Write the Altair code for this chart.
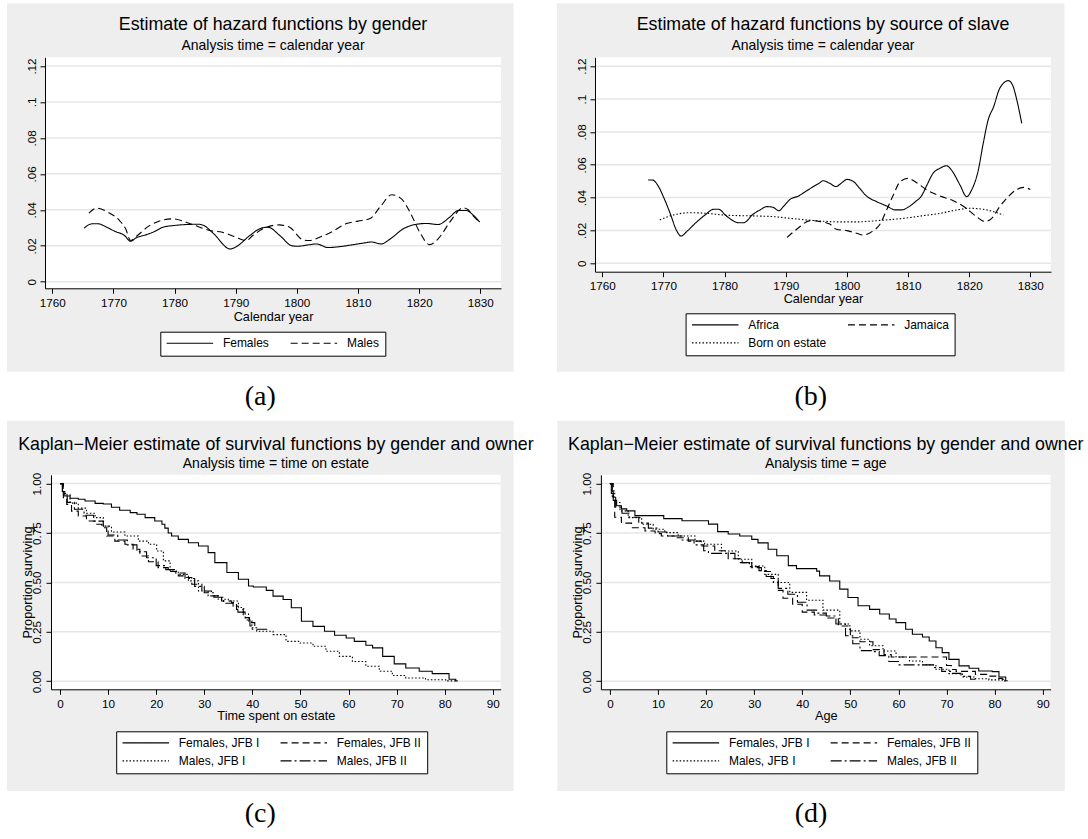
import altair as alt
import pandas as pd

FONT = "Liberation Sans"
SERIF = "Liberation Serif"
INK = "#000000"
PANEL = "#eeeeee"
GRIDC = "#e6e6e6"

# ---------------- (a) hazard by gender, calendar year ----------------
fem_year = [1765.2, 1766.5, 1767.5, 1768.9, 1770.2, 1771.8, 1772.8, 1773.7, 1775.4, 1776.7,
            1778.1, 1780.0, 1781.9, 1783.8, 1784.7, 1786.3, 1789.1, 1790.1, 1792.3, 1794.2,
            1795.3, 1797.2, 1799.1, 1800.0, 1802.1, 1803.2, 1805.1, 1807.0, 1809.2, 1811.1,
            1812.2, 1813.8, 1815.2, 1817.4, 1819.3, 1821.2, 1823.1, 1825.0, 1826.4, 1827.7,
            1828.8, 1829.9]
fem_haz = [.0298, .0322, .0322, .0303, .0281, .0257, .0225, .0244, .0262, .0279,
           .0303, .0313, .0318, .0320, .0314, .0270, .0182, .0195, .0257, .0298,
           .0303, .0257, .0201, .0197, .0206, .0210, .0190, .0195, .0206, .0216,
           .0221, .0210, .0236, .0294, .0318, .0324, .0318, .0359, .0396, .0396,
           .0372, .0331]
male_year = [1766.0, 1767.2, 1769.1, 1771.0, 1772.0, 1772.8, 1773.7, 1775.9, 1777.8, 1779.7,
             1781.9, 1783.8, 1785.7, 1787.8, 1789.8, 1791.7, 1792.8, 1795.0, 1797.1, 1798.8,
             1801.0, 1802.0, 1804.0, 1805.9, 1808.0, 1810.0, 1811.9, 1813.8, 1815.5, 1817.1,
             1818.5, 1820.1, 1821.7, 1823.1, 1825.0, 1827.2, 1828.0, 1828.8, 1829.9]
male_haz = [.0381, .0409, .0387, .0340, .0294, .0229, .0251, .0312, .0340, .0350,
            .0331, .0307, .0285, .0275, .0251, .0229, .0257, .0303, .0316, .0303,
            .0233, .0229, .0251, .0281, .0322, .0337, .0350, .0424, .0484, .0461,
            .0387, .0275, .0206, .0238, .0331, .0411, .0400, .0368, .0331]

# ---------------- (b) hazard by source of slave ----------------
afr_year = [1767.5, 1768.2, 1769.2, 1770.1, 1771.1, 1772.1, 1772.9, 1773.8, 1775.3, 1776.8,
            1778.2, 1779.0, 1780.3, 1782.3, 1783.1, 1784.7, 1785.8, 1786.9, 1787.9, 1788.9,
            1789.6, 1790.7, 1792.1, 1793.2, 1794.3, 1795.6, 1796.1, 1797.2, 1798.2, 1799.2,
            1800.0, 1801.1, 1802.1, 1803.2, 1804.9, 1806.5, 1807.9, 1809.0, 1810.0, 1811.2,
            1812.2, 1813.1, 1814.1, 1815.2, 1816.3, 1817.1, 1818.5, 1819.6, 1820.4, 1821.5,
            1822.3, 1823.1, 1824.0, 1825.0, 1826.4, 1827.1, 1827.8, 1828.6]
afr_haz = [.0507, .0507, .0467, .0396, .0304, .0203, .0166, .0193, .0247, .0294,
           .0329, .0329, .0288, .0247, .0247, .0300, .0325, .0345, .0341, .0320,
           .0345, .0389, .0410, .0436, .0462, .0491, .0503, .0487, .0467, .0491,
           .0511, .0497, .0456, .0410, .0375, .0349, .0325, .0325, .0341, .0375,
           .0410, .0477, .0548, .0578, .0594, .0568, .0477, .0406, .0446, .0568,
           .0730, .0872, .0953, .1065, .1112, .1085, .0994, .0852]
jam_year = [1790.2, 1791.8, 1794.0, 1795.6, 1797.2, 1798.3, 1800.0, 1801.6, 1802.7, 1804.1,
            1805.5, 1806.5, 1807.6, 1808.7, 1810.0, 1811.4, 1813.1, 1815.2, 1817.4, 1819.3,
            1821.2, 1822.6, 1823.7, 1825.0, 1826.4, 1827.8, 1828.9, 1830.0]
jam_haz = [.0158, .0207, .0260, .0254, .0239, .0207, .0199, .0183, .0172, .0193,
           .0243, .0325, .0416, .0497, .0517, .0491, .0446, .0410, .0381, .0341,
           .0284, .0254, .0274, .0345, .0406, .0450, .0462, .0450]
est_year = [1769.4, 1771.6, 1774.3, 1777.1, 1779.8, 1782.5, 1785.3, 1788.0, 1790.7, 1793.4,
            1796.2, 1798.9, 1801.6, 1804.3, 1807.1, 1809.8, 1812.5, 1815.2, 1818.0, 1820.1,
            1822.3, 1824.0, 1825.6]
est_haz = [.0264, .0294, .0308, .0304, .0294, .0290, .0288, .0284, .0274, .0264,
           .0256, .0252, .0252, .0258, .0266, .0276, .0290, .0304, .0325, .0335,
           .0329, .0314, .0294]

# ---------------- (c) Kaplan-Meier, time on estate ----------------
c_fj1_t = [0, 0.5, 1, 2.1, 3.8, 5.2, 7.3, 9, 10.7, 12.4, 14.6, 16, 17.7, 19.7, 21.2, 21.8, 22.5,
           23.2, 24.6, 26.7, 28.8, 30.8, 32.2, 34.7, 37.1, 39.2, 40.2, 42.9, 44.3, 46.4, 48.1,
           50.2, 52.6, 55, 57.1, 59.5, 61.2, 63.6, 65, 67.1, 69.5, 71.9, 74.7, 77.4, 80.9, 82.3, 82.6]
c_fj1_s = [1, .96, .937, .926, .921, .912, .9, .897, .88, .865, .853, .845, .828, .811, .794, .775,
           .75, .735, .718, .701, .684, .651, .6, .55, .516, .482, .477, .46, .431, .414, .372,
           .304, .278, .253, .233, .219, .202, .182, .169, .126, .088, .067, .051, .039, .01, .002, 0]
c_fj2_t = [0, 0.7, 1.4, 2.4, 3.8, 5.5, 7.3, 8.7, 9.7, 11.4, 13.5, 15.2, 16.6, 18.4, 20.4, 22.5,
           24.6, 26, 27.4, 29.5, 31.5, 33.6, 35.7, 36.7, 38.1, 39.4, 40.5, 41.3]
c_fj2_s = [1, .929, .895, .861, .836, .811, .794, .777, .735, .709, .693, .668, .634, .605, .575,
           .555, .533, .525, .491, .457, .432, .406, .398, .364, .322, .297, .283, .283]
c_mj1_t = [0, 0.7, 2.1, 3.8, 5.5, 7.3, 9, 10.7, 13.5, 16.3, 18.4, 20.1, 21.5, 22.9, 24.6, 26.7,
           28.8, 30.8, 32.9, 35, 37.1, 38.2, 39.2, 39.9, 40.9, 44.3, 47, 49.8, 52.6, 55.3, 58.1,
           60.8, 63.6, 66.4, 69.1, 71.9, 76, 80.2, 82.3]
c_mj1_s = [1, .943, .901, .876, .85, .828, .785, .755, .735, .709, .693, .659, .609, .558, .541,
           .508, .457, .432, .415, .406, .373, .34, .305, .271, .253, .236, .202, .194, .177,
           .152, .126, .1, .076, .051, .029, .017, .008, .002, 0]
c_mj2_t = [0, 0.5, 1.5, 3, 5, 7, 9, 10, 12, 14, 16, 18, 20, 22, 24, 26, 28, 30, 32, 34, 36, 37,
           38.5, 39.5, 40, 43.5]
c_mj2_s = [1, .95, .905, .87, .84, .81, .785, .74, .715, .69, .655, .625, .585, .565, .548, .52,
           .48, .448, .425, .395, .38, .35, .31, .28, .263, .263]

# ---------------- (d) Kaplan-Meier, age ----------------
d_fj1_t = [0, 0.3, 0.7, 1.4, 2.4, 3.5, 5.2, 11.2, 15, 20.5, 22.4, 24.6, 27, 29.5, 30.8, 32.9,
           34.7, 37.1, 38.8, 43, 43.6, 45.7, 47.8, 49.5, 51.6, 54, 56.1, 58.1, 59.5, 61.5, 62.9,
           65, 66.4, 67.8, 69.1, 70.5, 72.6, 74.7, 76.7, 79.5, 80.9, 82.3, 82.6]
d_fj1_s = [1, .95, .915, .888, .872, .862, .838, .823, .812, .795, .757, .745, .735, .718, .7,
           .668, .635, .585, .57, .557, .533, .507, .466, .424, .382, .364, .34, .315, .297,
           .263, .238, .224, .204, .17, .145, .111, .078, .066, .052, .049, .022, .003, 0]
d_fj2_t = [0, 0.7, 1, 2.4, 4.5, 7.3, 9.4, 10.7, 13.5, 16.3, 19, 21.8, 24.6, 27, 29.5, 31.5,
           33.5, 35, 36, 38, 40, 42.5, 45.3, 47.5, 50, 52, 54.7, 57, 58.5, 70, 71, 72, 76, 78.8,
           80.5, 81.6, 82.4]
d_fj2_s = [1, .93, .83, .8, .777, .76, .747, .735, .726, .709, .684, .66, .62, .6, .575, .555,
           .52, .46, .42, .39, .35, .335, .32, .28, .22, .2, .16, .135, .123, .08, .06, .05,
           .035, .026, .015, .01, .01]
d_mj1_t = [0, 0.35, 1, 2.1, 3.8, 6.6, 9, 11.4, 14.2, 17.7, 19.7, 23.2, 26.7, 29.5, 32.2, 35,
           37.4, 40.9, 44.3, 47.8, 49.9, 52, 54, 56.8, 59.5, 62.3, 65, 67.8, 70.5, 73.3, 76,
           78.8, 81.6, 82.5]
d_mj1_s = [1, .963, .904, .862, .828, .794, .769, .752, .735, .709, .693, .659, .617, .583,
           .541, .5, .45, .41, .36, .29, .255, .213, .18, .153, .123, .103, .083, .061, .039,
           .022, .013, .007, .002, 0]
d_mj2_t = [0, 0.5, 1.2, 2.5, 4, 6, 8, 10, 12, 15, 17.5, 19.5, 20.5, 26, 27.5, 29, 31, 32.5, 34,
           35, 37, 39, 41, 43, 45, 47, 49, 50.5, 52, 54.5, 56, 58, 60, 67.5, 69, 71, 73, 75, 76]
d_mj2_s = [1, .93, .88, .85, .83, .8, .775, .755, .735, .715, .69, .66, .647, .62, .6, .58,
           .56, .53, .5, .47, .44, .4, .36, .345, .33, .29, .23, .19, .155, .15, .13, .1, .083,
           .07, .05, .04, .025, .01, .01]

hazard_ticks = [0, 0.02, 0.04, 0.06, 0.08, 0.1, 0.12]
surv_ticks = [0, 0.25, 0.5, 0.75, 1.0]
year_ticks = list(range(1760, 1831, 10))
time_ticks = list(range(0, 91, 10))

gender_names = ["Females", "Males"]
source_names = ["Africa", "Jamaica", "Born on estate"]
owner_names = ["Females, JFB I", "Females, JFB II", "Males, JFB I", "Males, JFB II"]

SOLID = [1, 0]
DASH = [7, 4]
DOT = [1.5, 2]
LONGDASH_DOT = [11, 3, 2, 3]

HAZ_LABEL = "datum.value == 0 ? '0' : replace(format(datum.value, '.2~f'), '0.', '.')"
SURV_LABEL = "format(datum.value, '.2f')"


def long_table(parts):
    rows = []
    for name, xs, ys in parts:
        rows += [{"x": a, "y": b, "series": name} for a, b in zip(xs, ys)]
    return pd.DataFrame(rows)


def panel(table, names, dashes, interp, w, h, xdom, ydom, xticks, yticks, ylab_expr,
          xtitle, title, subtitle, box, legend_pos, caption, caption_pos,
          xtitle_y, ylab_pad, title_offset, sub_pad, ytitle="", ytitle_x=0.0):
    one = pd.DataFrame({"k": [0]})
    gx1, gx2, gy1, gy2 = box
    # panel backdrop and white plot region
    backdrop = alt.Chart(one).mark_rect(color=PANEL).encode(
        x=alt.value(gx1), x2=alt.value(gx2), y=alt.value(gy1), y2=alt.value(gy2))
    plotarea = alt.Chart(one).mark_rect(color="white").encode(
        x=alt.value(0), x2=alt.value(w), y=alt.value(0), y2=alt.value(h))

    xscale = alt.Scale(domain=xdom, nice=False, zero=False)
    yscale = alt.Scale(domain=ydom, nice=False, zero=False)
    xaxis = alt.Axis(values=xticks, format="d", title=xtitle, titleY=xtitle_y,
                     titleBaseline="middle", labelPadding=4, zindex=1)
    yopts = dict(values=yticks, labelExpr=ylab_expr, labelAngle=270, labelAlign="center",
                 labelBaseline="middle", labelPadding=ylab_pad, zindex=1)
    if ytitle:
        yopts.update(title=ytitle, titleX=ytitle_x, titleY=h / 2, titleAngle=270,
                     titleAlign="center", titleBaseline="middle")
    else:
        yopts.update(title=None)
    yaxis = alt.Axis(**yopts)

    grid = alt.Chart(pd.DataFrame({"y": yticks})).mark_rule(
        color=GRIDC, strokeWidth=1.5).encode(y=alt.Y("y:Q", scale=yscale, axis=yaxis))

    legend = alt.Legend(
        orient="none", legendX=legend_pos[0], legendY=legend_pos[1], columns=2,
        direction="horizontal", title=None,
        symbolType="stroke", symbolSize=2162, symbolStrokeWidth=1.1, symbolStrokeColor=INK,
        labelFont=FONT, labelFontSize=12, labelColor=INK, labelOffset=9, labelLimit=300,
        columnPadding=20, rowPadding=6, padding=5.6, clipHeight=12,
        strokeColor=INK, fillColor="white")
    curves = alt.Chart(table).mark_line(color=INK, strokeWidth=1.1, interpolate=interp).encode(
        x=alt.X("x:Q", scale=xscale, axis=xaxis),
        y=alt.Y("y:Q", scale=yscale, axis=yaxis),
        strokeDash=alt.StrokeDash("series:N", scale=alt.Scale(domain=names, range=dashes),
                                  legend=legend),
    )
    label = alt.Chart(one).mark_text(
        text=caption, font=SERIF, fontSize=28, color=INK, align="center", baseline="middle"
    ).encode(x=alt.value(caption_pos[0]), y=alt.value(caption_pos[1]))

    return alt.layer(backdrop, plotarea, grid, curves, label).properties(
        width=w, height=h,
        title=alt.TitleParams(
            text=title, subtitle=subtitle, anchor="middle", frame="group", font=FONT,
            fontSize=17.8, fontWeight="normal", color=INK, subtitleFont=FONT,
            subtitleFontSize=14, subtitleColor=INK, subtitlePadding=sub_pad,
            offset=title_offset),
    )


year_dom = [1758.806, 1833.386]
time_dom = [-1.871, 91.64]

chart_a = panel(
    long_table([("Females", fem_year, fem_haz), ("Males", male_year, male_haz)]),
    gender_names, [SOLID, DASH], "monotone", 456, 231, year_dom, [-0.00367, 0.12484],
    year_ticks, hazard_ticks, HAZ_LABEL, "Calendar year",
    "Estimate of hazard functions by gender", "Analysis time = calendar year",
    (-38, 468.5, -54, 314.4), (115.3, 274.4), "(a)", (215.25, 339.7),
    28.5, 8.6, -49.84, 4.94)

chart_b = panel(
    long_table([("Africa", afr_year, afr_haz), ("Jamaica", jam_year, jam_haz),
                ("Born on estate", est_year, est_haz)]),
    source_names, [SOLID, DASH, DOT], "monotone", 456, 214.4, year_dom, [-0.00511, 0.12542],
    year_ticks, hazard_ticks, HAZ_LABEL, "Calendar year",
    "Estimate of hazard functions by source of slave", "Analysis time = calendar year",
    (-38, 469.5, -54, 314.4), (90.6, 256), "(b)", (215.75, 339.7),
    26.5, 8.6, -49.84, 4.94)

chart_c = panel(
    long_table([("Females, JFB I", c_fj1_t, c_fj1_s), ("Females, JFB II", c_fj2_t, c_fj2_s),
                ("Males, JFB I", c_mj1_t, c_mj1_s), ("Males, JFB II", c_mj2_t, c_mj2_s)]),
    owner_names, [SOLID, DASH, DOT, LONGDASH_DOT], "step-after", 449.7, 214.5, time_dom,
    [-0.0405, 1.0445], time_ticks, surv_ticks, SURV_LABEL, "Time spent on estate",
    "Kaplan\u2212Meier estimate of survival functions by gender and owner",
    "Analysis time = time on estate",
    (-44, 462.5, -54, 316.2), (65.2, 256.5), "(c)", (209.25, 339.5),
    26.5, 9.7, -50.24, 3.54, ytitle="Proportion surviving", ytitle_x=-23.3)

chart_d = panel(
    long_table([("Females, JFB I", d_fj1_t, d_fj1_s), ("Females, JFB II", d_fj2_t, d_fj2_s),
                ("Males, JFB I", d_mj1_t, d_mj1_s), ("Males, JFB II", d_mj2_t, d_mj2_s)]),
    owner_names, [SOLID, DASH, DOT, LONGDASH_DOT], "step-after", 449.7, 214.5, time_dom,
    [-0.0405, 1.0445], time_ticks, surv_ticks, SURV_LABEL, "Age",
    "Kaplan\u2212Meier estimate of survival functions by gender and owner",
    "Analysis time = age",
    (-43.6, 463.9, -54, 316.2), (65.4, 256.5), "(d)", (210.15, 339.5),
    26.5, 9.7, -50.24, 3.54, ytitle="Proportion surviving", ytitle_x=-23.3)


def independent(c):
    return c.resolve_scale(strokeDash="independent").resolve_legend(strokeDash="independent")


# 1px layout gutter that nudges the lower row right of the upper one
gutter = alt.Chart(pd.DataFrame({"k": [0]})).mark_point(opacity=0).properties(width=1, height=1)

top_row = independent(alt.hconcat(chart_a, chart_b, spacing=94, bounds="flush"))
bottom_pair = independent(alt.hconcat(chart_c, chart_d, spacing=99.9, bounds="flush"))
bottom_row = independent(alt.hconcat(gutter, bottom_pair, spacing=5, bounds="flush"))

# rows stack by their full extent: caption of the upper row, backdrop of the lower row
chart = independent(alt.vconcat(top_row, bottom_row, spacing=9.5, bounds="full")).properties(
    padding={"left": 7, "top": 3.3, "right": 0, "bottom": 0}, background="white"
).configure_axis(
    labelFont=FONT, labelFontSize=11.7, labelColor=INK, titleFont=FONT, titleFontSize=12.7,
    titleFontWeight="normal", titleColor=INK, domainColor=INK, domainWidth=1, tickColor=INK,
    tickWidth=1, tickSize=5, grid=False, labelFlush=False, labelOverlap=False
).configure_view(strokeWidth=0)

chart.save("out.html", embed_options={"renderer": "svg", "actions": False})
